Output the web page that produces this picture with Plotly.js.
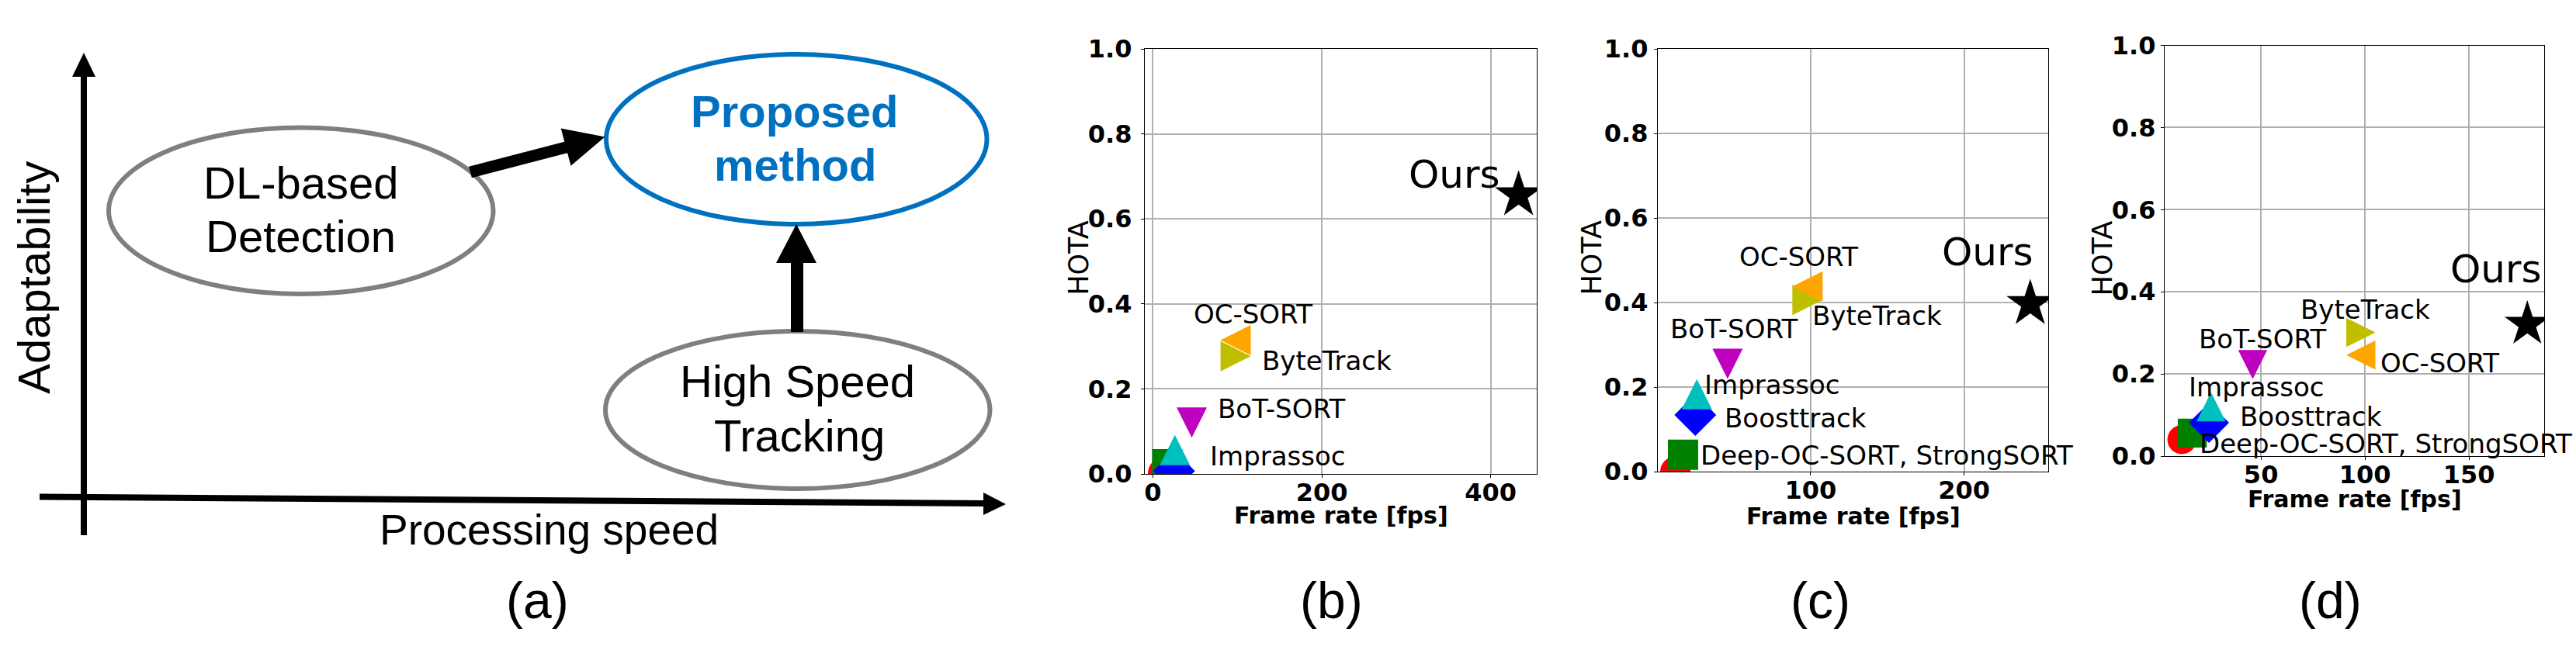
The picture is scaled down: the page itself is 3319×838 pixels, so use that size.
<!DOCTYPE html>
<html><head><meta charset="utf-8">
<script src="https://cdn.plot.ly/plotly-3.0.1.min.js"></script>
<style>html,body{margin:0;padding:0;background:#fff;}#chart{width:3319px;height:838px;}</style>
</head><body><div id="chart"></div>
<script>
const W = 3319, H = 838;

// ---------------- data ----------------
const methods = ['StrongSORT', 'Deep-OC-SORT', 'Boosttrack', 'Imprassoc', 'BoT-SORT', 'ByteTrack', 'OC-SORT', 'Ours'];
const fpsB  = [12, 17, 25, 26, 46, 98, 98, 433];
const hotaB = [0.002, 0.023, 0.007, 0.056, 0.121, 0.277, 0.315, 0.656];
const fpsC  = [12, 17, 25, 26, 46, 98, 98, 243];
const hotaC = [0.0, 0.040, 0.134, 0.183, 0.255, 0.406, 0.438, 0.397];
const fpsD  = [12, 17, 25, 26, 46, 98, 98, 178];
const hotaD = [0.040, 0.056, 0.081, 0.120, 0.223, 0.301, 0.246, 0.321];
const yTicks  = [0, 0.2, 0.4, 0.6, 0.8, 1.0];
const xTicksB = [0, 200, 400];
const xTicksC = [100, 200];
const xTicksD = [50, 100, 150];
const xTitle = 'Frame rate [fps]';
const yTitle = 'HOTA';
const panelLabels = ['(a)', '(b)', '(c)', '(d)'];
const diagramTexts = ['Adaptability', 'Processing speed', 'DL-based', 'Detection', 'Proposed', 'method', 'High Speed', 'Tracking'];

// ---------------- styles ----------------
const colors = ['#ff0000', '#008000', '#0000ff', '#00bfbf', '#bf00bf', '#bfbf00', '#ffa500', '#000000'];
// matplotlib-like markers: o, s, D, ^, v, >, <, *
function markerStyle(i, k) {
  const t = 39 * k;
  const m = [
    {symbol: 'circle', size: t},
    {symbol: 'square', size: t},
    {symbol: 'diamond', size: 41.5 * k},
    {symbol: 'arrow-down', size: t, angle: 180, standoff: t / 2},
    {symbol: 'arrow-down', size: t, angle: 0, standoff: t / 2},
    {symbol: 'arrow-down', size: t, angle: -90, standoff: t / 2},
    {symbol: 'arrow-down', size: t, angle: 90, standoff: t / 2},
    {symbol: 'star', size: 46 * k}
  ][i];
  return Object.assign({color: colors[i], line: {width: 0}}, m);
}

const X = px => px / W;
const Y = py => 1 - py / H;

const panels = [
  {fps: fpsB, hota: hotaB, xt: xTicksB, k: 1.0, xs: '', frame: [1475, 1980, 63, 611], range: [-9.6, 454.5],
   xTitleY: 664.6, yTitleX: 1389.3, yLabStand: 5,
   labels: [['Ours', 304, 0.705, 50], ['OC-SORT', 49.2, 0.376, 34], ['ByteTrack', 130.5, 0.267, 34], ['BoT-SORT', 78, 0.153, 34], ['Imprassoc', 68.9, 0.042, 34]]},
  {fps: fpsC, hota: hotaC, xt: xTicksC, k: 1.0, xs: '2', frame: [2136, 2639, 63, 608], range: [0.6, 254.7],
   xTitleY: 665, yTitleX: 2050, yLabStand: 1,
   labels: [['Ours', 186, 0.52, 50], ['OC-SORT', 54, 0.508, 34], ['ByteTrack', 101.4, 0.369, 34], ['BoT-SORT', 9.3, 0.337, 34], ['Imprassoc', 31.5, 0.205, 34], ['Boosttrack', 44.3, 0.127, 34], ['Deep-OC-SORT, StrongSORT', 28.9, 0.038, 34]]},
  {fps: fpsD, hota: hotaD, xt: xTicksD, k: 0.96, xs: '3', frame: [2789, 3278, 58.5, 588], range: [3.7, 186.1],
   xTitleY: 643, yTitleX: 2708.9, yLabStand: 0,
   labels: [['Ours', 141.4, 0.455, 50], ['ByteTrack', 69.5, 0.357, 34], ['BoT-SORT', 20.5, 0.286, 34], ['OC-SORT', 107.8, 0.226, 34], ['Imprassoc', 15.8, 0.169, 34], ['Boosttrack', 40.4, 0.097, 34], ['Deep-OC-SORT, StrongSORT', 20.9, 0.030, 34]]}
];

const traces = [];
const annotations = [];
const layout = {
  width: W, height: H, margin: {l: 0, r: 0, t: 0, b: 0},
  paper_bgcolor: '#ffffff', plot_bgcolor: '#ffffff', showlegend: false,
  font: {family: 'DejaVu Sans', color: '#000000'},
  shapes: [], annotations: annotations
};

const tickFont = {family: 'DejaVu Sans', size: 32, weight: 'bold', color: '#000000'};
panels.forEach((p, pi) => {
  const xa = 'x' + p.xs, ya = 'y' + p.xs;
  methods.forEach((m, i) => {
    traces.push({
      type: 'scatter', mode: 'markers', name: m, xaxis: xa, yaxis: ya,
      x: [p.fps[i]], y: [p.hota[i]], marker: markerStyle(i, p.k), hoverinfo: 'name+x+y'
    });
  });
  const [l, r, t, b] = p.frame;
  layout['xaxis' + p.xs] = {
    domain: [X(l), X(r)], range: p.range, anchor: ya, tickvals: p.xt, ticktext: p.xt.map(String),
    showgrid: true, gridcolor: '#b0b0b0', gridwidth: 2, zeroline: false,
    showline: true, mirror: true, linecolor: '#000000', linewidth: 1.3,
    ticks: 'outside', ticklen: 4, tickwidth: 1.3, tickcolor: '#000000', tickfont: tickFont,
    ticklabelstandoff: -9,
    automargin: false, fixedrange: true
  };
  layout['yaxis' + p.xs] = {
    domain: [Y(b), Y(t)], range: [0, 1], anchor: xa, tickvals: yTicks, tickformat: '.1f',
    showgrid: true, gridcolor: '#b0b0b0', gridwidth: 2, zeroline: false,
    showline: true, mirror: true, linecolor: '#000000', linewidth: 1.3,
    ticks: 'outside', ticklen: 4, tickwidth: 1.3, tickcolor: '#000000', tickfont: tickFont,
    ticklabelstandoff: p.yLabStand,
    automargin: false, fixedrange: true
  };
  // axis titles
  annotations.push({xref: 'paper', yref: 'paper', x: X((l + r) / 2), y: Y(p.xTitleY), text: xTitle, showarrow: false,
    xanchor: 'center', yanchor: 'middle', font: {family: 'DejaVu Sans', size: 30, weight: 'bold', color: '#000000'}});
  annotations.push({xref: 'paper', yref: 'paper', x: X(p.yTitleX), y: Y(332.5), text: yTitle, showarrow: false, textangle: -90,
    xanchor: 'center', yanchor: 'middle', font: {family: 'DejaVu Sans', size: 35, color: '#000000'}});
  p.labels.forEach(([txt, lx, ly, fs]) => {
    annotations.push({xref: xa, yref: ya, x: lx, y: ly, text: txt, showarrow: false, xanchor: 'left', yanchor: 'middle', xshift: -3,
      font: {family: 'DejaVu Sans', size: fs, color: '#000000'}});
  });
});

// ---------------- panel (a): concept diagram ----------------
const arial = 'Liberation Sans, Arial, sans-serif';
const sh = layout.shapes;
function seg(x0, y0, x1, y1, w) {
  sh.push({type: 'line', xref: 'paper', yref: 'paper', x0: X(x0), y0: Y(y0), x1: X(x1), y1: Y(y1), line: {color: '#000000', width: w}});
}
function tri(pts) {
  const d = 'M' + pts.map(q => X(q[0]) + ',' + Y(q[1])).join(' L') + ' Z';
  sh.push({type: 'path', xref: 'paper', yref: 'paper', path: d, fillcolor: '#000000', line: {width: 0}});
}
function ell(x0, x1, y0, y1, c) {
  sh.push({type: 'circle', xref: 'paper', yref: 'paper', x0: X(x0), x1: X(x1), y0: Y(y1), y1: Y(y0), line: {color: c, width: 6}, fillcolor: 'rgba(0,0,0,0)'});
}
// axes of the diagram
seg(108, 690, 108, 97, 8);
tri([[93, 99], [123, 99], [108, 68]]);
seg(51, 640.5, 1269, 649, 8);
tri([[1267, 635], [1267, 664], [1296, 650]]);
// ellipses
ell(140, 635.5, 164.5, 379, '#7f7f7f');
ell(781, 1271.5, 70, 289, '#0070c0');
ell(780, 1275.5, 427, 630, '#7f7f7f');
// arrows
seg(606, 222, 731, 189.5, 15);
tri([[722.7, 165.4], [735.5, 213.8], [779.4, 176.4]]);
seg(1027, 428, 1027, 337, 16);
tri([[1000, 339], [1052, 339], [1026, 289]]);

function txt(s, x, y, fs, opts) {
  annotations.push(Object.assign({xref: 'paper', yref: 'paper', x: X(x), y: Y(y), text: s, showarrow: false,
    xanchor: 'center', yanchor: 'middle', font: {family: arial, size: fs, color: '#000000'}}, opts || {}));
}
txt(diagramTexts[0], 42.7, 358, 58, {textangle: -90});
txt(diagramTexts[1], 707, 683.3, 55);
txt(diagramTexts[2], 387, 235.4, 58);
txt(diagramTexts[3], 387, 304.4, 58);
txt(diagramTexts[4], 1024, 143.4, 58, {font: {family: arial, size: 58, color: '#0070c0', weight: 'bold'}});
txt(diagramTexts[5], 1024, 212.4, 58, {font: {family: arial, size: 58, color: '#0070c0', weight: 'bold'}});
txt(diagramTexts[6], 1027, 491.4, 58);
txt(diagramTexts[7], 1030, 561.4, 58);

// panel labels
const labelX = [692, 1716, 2345, 3002];
panelLabels.forEach((s, i) => txt(s, labelX[i], 773.7, 66));

Plotly.newPlot('chart', traces, layout, {displayModeBar: false, responsive: false});
</script>
</body></html>
